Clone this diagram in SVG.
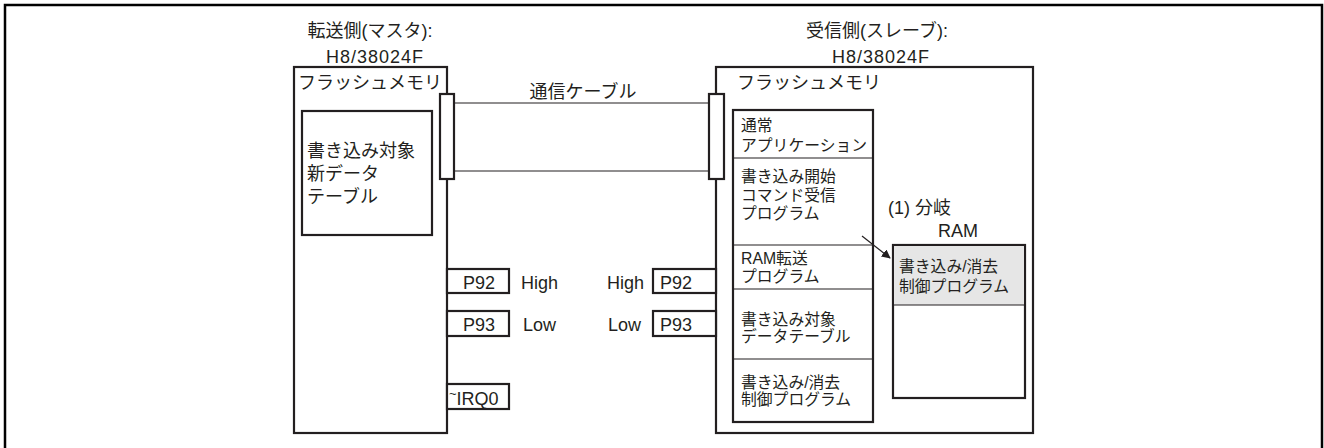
<svg xmlns="http://www.w3.org/2000/svg" width="1324" height="448" viewBox="0 0 1324 448">
<style>
text{font-family:"Liberation Sans","Noto Sans CJK JP",sans-serif;fill:#231f20;font-size:18px}
.s{font-size:15.8px}
.h{letter-spacing:1px}
.box{fill:#fff;stroke:#231f20;stroke-width:2.2}
.thin{stroke:#231f20;stroke-width:1.2;fill:none}
</style>
<defs>
<marker id="ah" viewBox="0 0 10 10" refX="9" refY="5" markerWidth="9" markerHeight="9" markerUnits="userSpaceOnUse" orient="auto">
<path d="M0,0 L10,5 L0,10 z" fill="#231f20"/>
</marker>
</defs>
<rect x="5" y="5" width="1317" height="446" fill="none" stroke="#000" stroke-width="2.5"/>

<g id="master">
<text x="370" y="37" text-anchor="middle">転送側(マスタ):</text>
<text class="h" x="375" y="63" text-anchor="middle">H8/38024F</text>
<rect class="box" x="294" y="67" width="153" height="366"/>
<text x="298" y="89">フラッシュメモリ</text>
</g>
<g id="master-table">
<rect class="box" x="302" y="111" width="130" height="124"/>
<text x="307" y="157">書き込み対象</text>
<text x="307" y="180">新データ</text>
<text x="307" y="203">テーブル</text>
</g>
<g id="master-p92">
<rect class="box" x="447" y="269" width="62" height="24"/>
<text x="463" y="289">P92</text>
</g>
<g id="master-p93">
<rect class="box" x="447" y="311" width="62" height="25"/>
<text x="463" y="331">P93</text>
</g>
<g id="master-irq0">
<rect class="box" x="447" y="384" width="62" height="25"/>
<text x="449" y="405"><tspan font-size="13" dy="-7">~</tspan><tspan dy="7">IRQ0</tspan></text>
</g>

<g id="slave">
<text x="877" y="37" text-anchor="middle">受信側(スレーブ):</text>
<text class="h" x="881" y="63" text-anchor="middle">H8/38024F</text>
<rect class="box" x="716" y="67" width="317" height="366"/>
<text x="737" y="89">フラッシュメモリ</text>
</g>
<g id="slave-p92">
<rect class="box" x="653" y="269" width="63" height="24"/>
<text x="660" y="289">P92</text>
</g>
<g id="slave-p93">
<rect class="box" x="653" y="311" width="63" height="25"/>
<text x="660" y="331">P93</text>
</g>
<g id="slave-column">
<rect class="box" x="733" y="110" width="140" height="312"/>
<line class="thin" x1="733" y1="158" x2="873" y2="158"/>
<line class="thin" x1="733" y1="245" x2="873" y2="245"/>
<line class="thin" x1="733" y1="289" x2="873" y2="289"/>
<line class="thin" x1="733" y1="359" x2="873" y2="359"/>
<text class="s" x="741" y="131">通常</text>
<text class="s" x="741" y="151">アプリケーション</text>
<text class="s" x="741" y="182">書き込み開始</text>
<text class="s" x="741" y="201">コマンド受信</text>
<text class="s" x="741" y="219">プログラム</text>
<text class="s" x="741" y="264">RAM転送</text>
<text class="s" x="741" y="282">プログラム</text>
<text class="s" x="741" y="325">書き込み対象</text>
<text class="s" x="741" y="342">データテーブル</text>
<text class="s" x="741" y="388">書き込み/消去</text>
<text class="s" x="741" y="405">制御プログラム</text>
</g>
<g id="ram">
<text x="888" y="214">(1) 分岐</text>
<text x="938" y="237">RAM</text>
<rect class="box" x="893" y="245" width="132" height="153"/>
<rect x="894.1" y="246.1" width="129.8" height="58.9" fill="#e6e6e6"/>
<line class="thin" x1="893" y1="305" x2="1025" y2="305"/>
<text class="s" x="899" y="272">書き込み/消去</text>
<text class="s" x="899" y="292">制御プログラム</text>
</g>

<g id="connectors">
<line class="thin" x1="454" y1="103" x2="709" y2="103"/>
<line class="thin" x1="454" y1="171" x2="709" y2="171"/>
<rect class="box" x="440" y="94" width="14" height="85"/>
<rect class="box" x="709" y="94" width="15" height="85"/>
<text x="583" y="98" text-anchor="middle">通信ケーブル</text>
<text x="521" y="289">High</text>
<text x="607" y="289">High</text>
<text x="523" y="331">Low</text>
<text x="608" y="331">Low</text>
<line x1="862" y1="236" x2="890" y2="258" stroke="#231f20" stroke-width="1.2" marker-end="url(#ah)"/>
</g>
</svg>
